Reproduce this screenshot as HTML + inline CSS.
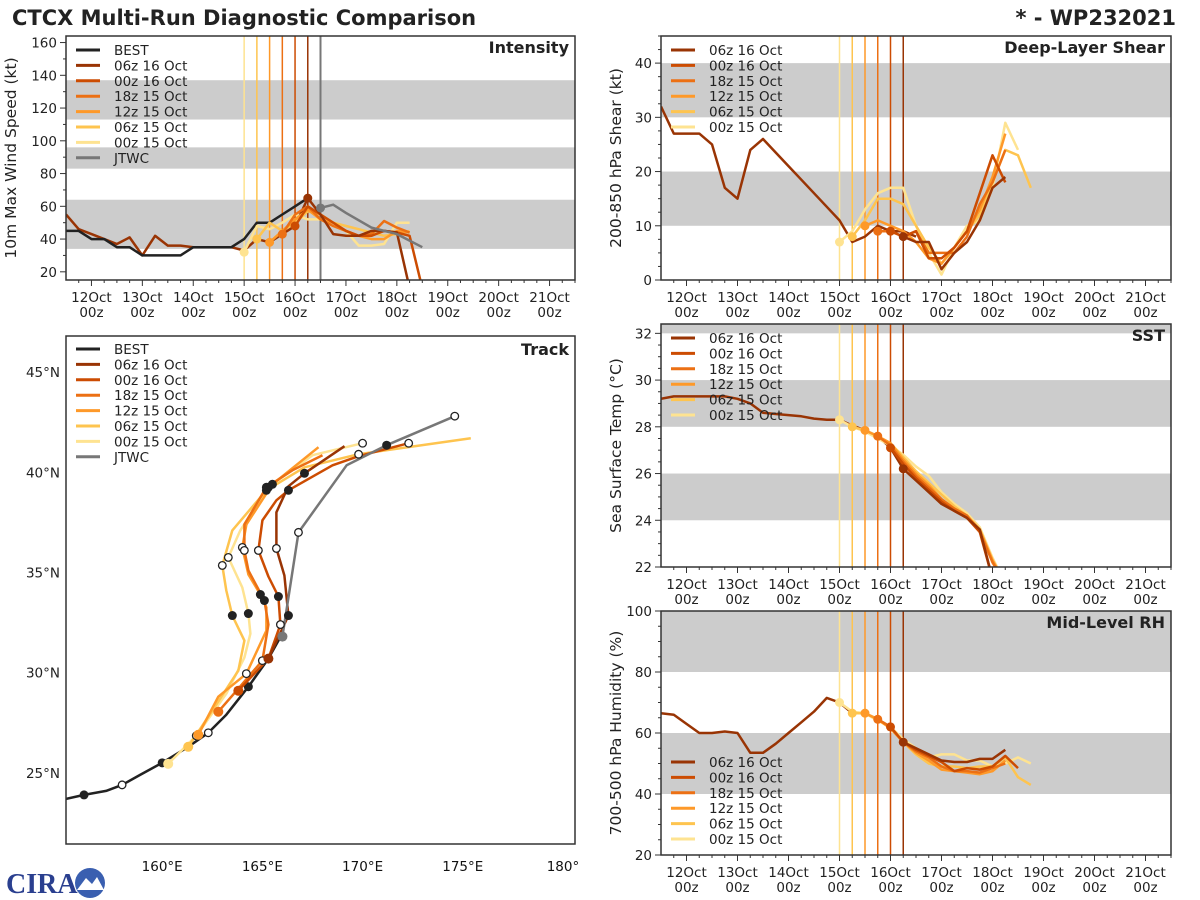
<!DOCTYPE html>
<html><head><meta charset="utf-8"><style>
html,body{margin:0;padding:0;background:#fff;}
svg{display:block;font-family:"DejaVu Sans","Liberation Sans",sans-serif;}
</style></head><body>
<svg id="fig" width="1200" height="900" viewBox="0 0 1200 900" xmlns="http://www.w3.org/2000/svg">
<text x="12" y="25" font-size="21" font-weight="bold" fill="#222">CTCX Multi-Run Diagnostic Comparison</text>
<text x="1176" y="25" font-size="21" font-weight="bold" fill="#222" text-anchor="end">* - WP232021</text>
<g>
<text x="6" y="893" font-size="28" font-weight="bold" fill="#2a3f8f" font-family="Liberation Serif,serif">CIRA</text>
<circle cx="90" cy="883" r="15" fill="#3a5fb0"/>
<path d="M77 890 L86 878 L92 884 L97 877 L104 890 Z" fill="#fff"/>
</g>
</svg>
<script>
// ---------- data ----------
const runNames = ['06z 16 Oct','00z 16 Oct','18z 15 Oct','12z 15 Oct','06z 15 Oct','00z 15 Oct'];
const runInit = [102, 96, 90, 84, 78, 72];
const dayLabels = ['12Oct','13Oct','14Oct','15Oct','16Oct','17Oct','18Oct','19Oct','20Oct','21Oct'];
const histStart = -12;

// Intensity (kt), 6-hourly
const bestInt = [45,45,40,40,35,35,30,30,30,30,35,35,35,35,40,50,50,55,60,65];
const histInt = [55,46,43,40,37,41,30,42,36,36,35,35,35,35,33,40,38,43,48,65];
const jtwcTimes = [108,114,120,132,144,156];
const jtwcInt = [59,61,56,47,43,35];
const fcInt = [
  [65,55,43,42,42,45,45,44,10],
  [48,60,55,50,45,42,42,45,44,42,10],
  [43,55,60,52,48,45,42,43,51,47,44],
  [38,45,52,58,52,50,45,42,40,40,45,44],
  [40,50,45,50,57,55,50,48,46,44,42,43,45],
  [32,48,46,50,55,52,52,48,45,36,36,37,50,50]
];
// Shear (kt)
const histShear = [32,27,27,27,25,17,15,24,26,23.5,21,18.5,16,13.5,11,7,8,10,9,9,8];
const fcShear = [
  [8,7,7,2,5,7,11,17,19],
  [9,8,9,4,4,6,9,16,23,18],
  [9,9,8,9,5,5,5,8,14,18,24],
  [10,11,10,9,7,4,3,6,9,13,19,27],
  [8,11,15,15,14,10,6,3,6,9,12,18,24,23,17],
  [7,9,13,16,17,17,10,5,1,6,10,11,17,29,24]
];
// SST (C)
const histSst = [29.2,29.3,29.3,29.3,29.3,29.3,29.2,29.0,28.6,28.55,28.5,28.45,28.35,28.3,28.3,28.05,27.85,27.6,27.1,26.2];
const fcSst = [
  [26.2,25.7,25.2,24.7,24.4,24.1,23.6,21.5],
  [27.1,26.4,25.8,25.3,24.8,24.4,24.1,23.5,21.5],
  [27.6,27.2,26.5,25.9,25.4,24.9,24.5,24.2,23.5,22.2,21.3],
  [27.85,27.6,27.3,26.6,26.0,25.5,24.9,24.5,24.2,23.6,22.3,21.3],
  [28.0,27.85,27.6,27.3,26.7,26.1,25.6,25.1,24.6,24.2,23.6,22.2,21.3],
  [28.3,28.0,27.8,27.5,27.2,26.8,26.3,25.9,25.2,24.7,24.3,23.7,22.4,21.3]
];
// RH (%)
const histRh = [66.5,66,63,60,60,60.5,60,53.5,53.5,56.5,60,63.5,67,71.5,70,66.5,66.5,64.5,62,57];
const fcRh = [
  [57,55,53,51,50.5,50.5,51.5,51.5,54.5],
  [62,57,54.5,52.5,50.5,47.5,48.5,48,49,52.5,48.5],
  [64.5,62,57,54,52,49,47.5,47.5,47,48.5,50],
  [66.5,64.5,61.5,57,53.5,51,48,47.5,47,46.5,47.5,51],
  [66.5,66.5,64.5,61.5,57,53,50,49,49,48.5,49,49,52,45.5,43],
  [70,67,66.5,64,62,58,55,52,53,53,51,51,49,50,52,50]
];
// Track (lon E, lat N)
const bestLon = [155.2,156.1,157.2,158.0,158.9,160.0,161.3,162.3,163.2,164.3,165.3,165.8,166.0];
const bestLat = [23.7,23.9,24.1,24.4,24.9,25.5,26.3,27.0,27.9,29.3,30.7,31.6,31.8];
const jtwcLon = [166.0,166.8,169.2,171.2,174.6];
const jtwcLat = [31.8,37.0,40.35,41.35,42.8];
const trkLon = [
  [165.3,166.3,166.1,165.7,165.7,166.3,167.1,169.1],
  [163.8,165.3,165.9,165.8,165.3,164.8,165.0,165.7,166.3,168.5,169.8,172.3],
  [162.8,163.8,165.0,165.3,165.1,164.3,164.1,164.1,165.2,166.5,168.0],
  [161.8,162.8,164.2,165.2,165.2,164.9,164.3,164.0,164.2,165.5,167.8],
  [161.3,162.5,163.8,164.1,163.5,163.2,163.0,163.5,165.2,167.1,169.8,175.4],
  [160.3,161.7,163.2,164.1,164.4,164.3,164.0,163.3,163.9,165.3,167.5,170.0]
];
const trkLat = [
  [30.7,32.85,34.85,36.2,38.0,39.3,39.95,41.3],
  [29.1,30.7,32.4,33.8,34.8,36.1,37.6,38.6,39.1,40.35,40.8,41.45],
  [28.05,29.2,30.6,32.4,33.6,35.1,36.1,37.4,39.25,40.1,40.85],
  [26.9,28.8,29.95,32.1,33.25,33.9,34.9,36.25,37.4,39.4,41.25],
  [26.3,28.1,30.1,31.6,32.85,34.1,35.35,37.1,39.1,40.25,40.9,41.7],
  [25.45,26.85,28.95,30.75,31.95,32.95,34.25,35.75,37.1,39.25,40.85,41.45]
];
const trkMarks = ['cb.o..b.','c.ob.o..b..o','c.o.b.o.b..','c.o..b.o.b.','c...b.o.b.o.','co...b.o.b.o'];
const bestMarks = '.b.o.b.o.b...';
const jtwcMarks = 'go.bo';

// ---------- styles ----------
const runColors = ['#993404','#cc4c02','#ec7014','#fe9929','#fec44f','#fee391'];
const NS = 'http://www.w3.org/2000/svg';
const svg = document.getElementById('fig');
function mk(tag, parent, attrs){const e=document.createElementNS(NS,tag);for(const k in attrs)e.setAttribute(k,attrs[k]);parent.appendChild(e);return e;}
function pts(xs,ys){return xs.map((x,i)=>x.toFixed(1)+','+ys[i].toFixed(1)).join(' ');}

let clipId=0;
function timePanel(cfg){
  const g=mk('g',svg,{});
  
  
  const {x0,x1,y0,y1,ymin,ymax}=cfg;
  const sx=h=>x0+(h+12)/240*(x1-x0);
  const sy=v=>y1-(v-ymin)/(ymax-ymin)*(y1-y0);
  const cid='c'+(clipId++);
  const cp=mk('clipPath',g,{id:cid}); mk('rect',cp,{x:x0,y:y0,width:x1-x0,height:y1-y0});
  const pg=mk('g',g,{'clip-path':'url(#'+cid+')'});
  cfg.bands.forEach(b=>{
    const r=mk('rect',pg,{x:x0,y:sy(b[1]),width:x1-x0,height:sy(b[0])-sy(b[1]),fill:'#cccccc'});
    
    
  });
  runInit.forEach((t,i)=>{
    const l=mk('line',pg,{x1:sx(t),x2:sx(t),y1:y0,y2:y1,stroke:runColors[i],'stroke-width':1.5});
    
    
  });
  if(cfg.jtwc){
    const l=mk('line',pg,{x1:sx(jtwcTimes[0]),x2:sx(jtwcTimes[0]),y1:y0,y2:y1,stroke:'#777','stroke-width':2});
    
    
  }
  const line=(vals,t0,color,w,name)=>{
    const xs=vals.map((v,i)=>sx(t0+6*i)), ys=vals.map(v=>sy(v));
    const p=mk('polyline',pg,{points:pts(xs,ys),fill:'none',stroke:color,'stroke-width':w,'stroke-linejoin':'round'});
    
    
  };
  line(cfg.hist,histStart,runColors[0],2.5,'history-line');
  if(cfg.best) line(cfg.best,histStart,'#222',2.5,'best-track-line');
  for(let i=5;i>=0;i--) line(cfg.fc[i],runInit[i],runColors[i],2.5,'forecast-line-'+i);
  if(cfg.jtwc){
    const p=mk('polyline',pg,{points:pts(jtwcTimes.map(sx),jtwcInt.map(sy)),fill:'none',stroke:'#777','stroke-width':2.5});
    
    
    const c=mk('circle',pg,{cx:sx(jtwcTimes[0]),cy:sy(jtwcInt[0]),r:4.5,fill:'#777'});
    
    
  }
  for(let i=5;i>=0;i--){
    const c=mk('circle',pg,{cx:sx(runInit[i]),cy:sy(cfg.fc[i][0]),r:4.5,fill:runColors[i]});
    
    
  }
  mk('rect',g,{x:x0,y:y0,width:x1-x0,height:y1-y0,fill:'none',stroke:'#333','stroke-width':1.5});
  for(let h=-6;h<=228;h+=6){
    const major=h%24===0;
    mk('line',g,{x1:sx(h),x2:sx(h),y1:y1,y2:y1+(major?6:3),stroke:'#333','stroke-width':1});
  }
  dayLabels.forEach((d,i)=>{
    const t=mk('text',g,{x:sx(i*24),y:y1+22,'font-size':13.5,'text-anchor':'middle',fill:'#222'});
    
    
    t.textContent=d;
    const t2=mk('text',g,{x:sx(i*24),y:y1+37,'font-size':13.5,'text-anchor':'middle',fill:'#222'});
    t2.textContent='00z';
  });
  for(let v=cfg.minorStart;v<=ymax+1e-6;v+=cfg.minor){
    if(v<ymin-1e-6) continue;
    const isMaj=Math.abs(((v-cfg.majStart)/cfg.major)-Math.round((v-cfg.majStart)/cfg.major))<1e-6;
    mk('line',g,{x1:x0,x2:x0-(isMaj?6:3),y1:sy(v),y2:sy(v),stroke:'#333','stroke-width':1});
    if(isMaj && v>=cfg.majStart){
      const t=mk('text',g,{x:x0-9,y:sy(v)+5,'font-size':13.5,'text-anchor':'end',fill:'#222'});
      
      
      t.textContent=String(Math.round(v));
    }
  }
  const yt=mk('text',g,{x:0,y:0,'font-size':15.5,'text-anchor':'middle',fill:'#222',transform:`translate(${cfg.ytx},${(y0+y1)/2}) rotate(-90)`});
  
  
  yt.textContent=cfg.ytitle;
  const tt=mk('text',g,{x:x1-6,y:y0+17,'font-size':16,'font-weight':'bold','text-anchor':'end',fill:'#222'});
  
  
  tt.textContent=cfg.title;
  legend(g,x0,cfg.legY,cfg.legend);
}
function legend(g,x0,ly,entries){
  const lg=mk('g',g,{});
  
  
  entries.forEach((e,i)=>{
    const y=ly+i*15.4;
    mk('line',lg,{x1:x0+10,x2:x0+34,y1:y,y2:y,stroke:e[1],'stroke-width':3});
    const t=mk('text',lg,{x:x0+48,y:y+5,'font-size':13.5,fill:'#222'});
    
    
    t.textContent=e[0];
  });
}
const runLegend=runNames.map((n,i)=>[n,runColors[i]]);
const fullLegend=[['BEST','#222']].concat(runLegend,[['JTWC','#777']]);

timePanel({name:'intensity-panel',x0:66,x1:575,y0:36,y1:280,ymin:15,ymax:164,
  bands:[[34,64],[83,96],[113,137]],hist:histInt,best:bestInt,fc:fcInt,jtwc:true,
  major:20,majStart:20,minor:10,minorStart:20,ytitle:'10m Max Wind Speed (kt)',ytx:16,title:'Intensity',legY:50,legend:fullLegend});
timePanel({name:'shear-panel',x0:661,x1:1171,y0:36,y1:280,ymin:0,ymax:45,
  bands:[[10,20],[30,40]],hist:histShear,fc:fcShear,
  major:10,majStart:0,minor:2.5,minorStart:0,ytitle:'200-850 hPa Shear (kt)',ytx:621,title:'Deep-Layer Shear',legY:50,legend:runLegend});
timePanel({name:'sst-panel',x0:661,x1:1171,y0:324,y1:567,ymin:22,ymax:32.4,
  bands:[[24,26],[28,30],[32,33]],hist:histSst,fc:fcSst,
  major:2,majStart:22,minor:0.5,minorStart:22,ytitle:'Sea Surface Temp (°C)',ytx:621,title:'SST',legY:338,legend:runLegend});
timePanel({name:'rh-panel',x0:661,x1:1171,y0:611,y1:855,ymin:20,ymax:100,
  bands:[[40,60],[80,100]],hist:histRh,fc:fcRh,
  major:20,majStart:20,minor:5,minorStart:20,ytitle:'700-500 hPa Humidity (%)',ytx:621,title:'Mid-Level RH',legY:762,legend:runLegend});

// ---------- track ----------
(function(){
  const x0=66,x1=575,y0=336,y1=844;
  const lonMin=155.2,lonMax=180.6,latMin=21.45,latMax=46.8;
  const sx=l=>x0+(l-lonMin)/(lonMax-lonMin)*(x1-x0);
  const sy=l=>y1-(l-latMin)/(latMax-latMin)*(y1-y0);
  const g=mk('g',svg,{});
  
  
  const cp=mk('clipPath',g,{id:'trk'}); mk('rect',cp,{x:x0,y:y0,width:x1-x0,height:y1-y0});
  const pg=mk('g',g,{'clip-path':'url(#trk)'});
  const tline=(lons,lats,color,name)=>{
    const p=mk('polyline',pg,{points:pts(lons.map(sx),lats.map(sy)),fill:'none',stroke:color,'stroke-width':2.5,'stroke-linejoin':'round'});
    
    
  };
  const tmarks=(lons,lats,marks,color)=>{
    for(let i=0;i<marks.length&&i<lons.length;i++){
      const m=marks[i]; if(m==='.') continue;
      const a={cx:sx(lons[i]),cy:sy(lats[i]),r:4};
      if(m==='o'){a.fill='#fff';a.stroke='#222';a['stroke-width']=1.3;a.r=3.8;}
      else if(m==='b'){a.fill='#222';a.r=4.5;}
      else if(m==='g'){a.fill='#777';a.r=5;}
      else {a.fill=color;a.r=5;}
      const c=mk('circle',pg,a);
      
      
    }
  };
  tline(bestLon,bestLat,'#222','best-track');
  tmarks(bestLon,bestLat,bestMarks,'#222');
  for(let i=5;i>=0;i--) tline(trkLon[i],trkLat[i],runColors[i],'forecast-track-'+i);
  tline(jtwcLon,jtwcLat,'#777','jtwc-track');
  for(let i=5;i>=0;i--) tmarks(trkLon[i],trkLat[i],trkMarks[i],runColors[i]);
  tmarks(jtwcLon,jtwcLat,jtwcMarks,'#777');
  mk('rect',g,{x:x0,y:y0,width:x1-x0,height:y1-y0,fill:'none',stroke:'#333','stroke-width':1.5});
  [25,30,35,40,45].forEach(l=>{
    const t=mk('text',g,{x:x0-6,y:sy(l)+5,'font-size':13.5,'text-anchor':'end',fill:'#222'});
    
    
    t.textContent=l+'°N';
  });
  [160,165,170,175,180].forEach(l=>{
    const t=mk('text',g,{x:sx(l),y:y1+27,'font-size':13.5,'text-anchor':'middle',fill:'#111'});
    
    
    t.textContent=l===180?'180°':l+'°E';
  });
  const tt=mk('text',g,{x:x1-6,y:y0+19,'font-size':16,'font-weight':'bold','text-anchor':'end',fill:'#222'});
  
  
  tt.textContent='Track';
  legend(g,x0,349,fullLegend);
})();
</script>
</body></html>
